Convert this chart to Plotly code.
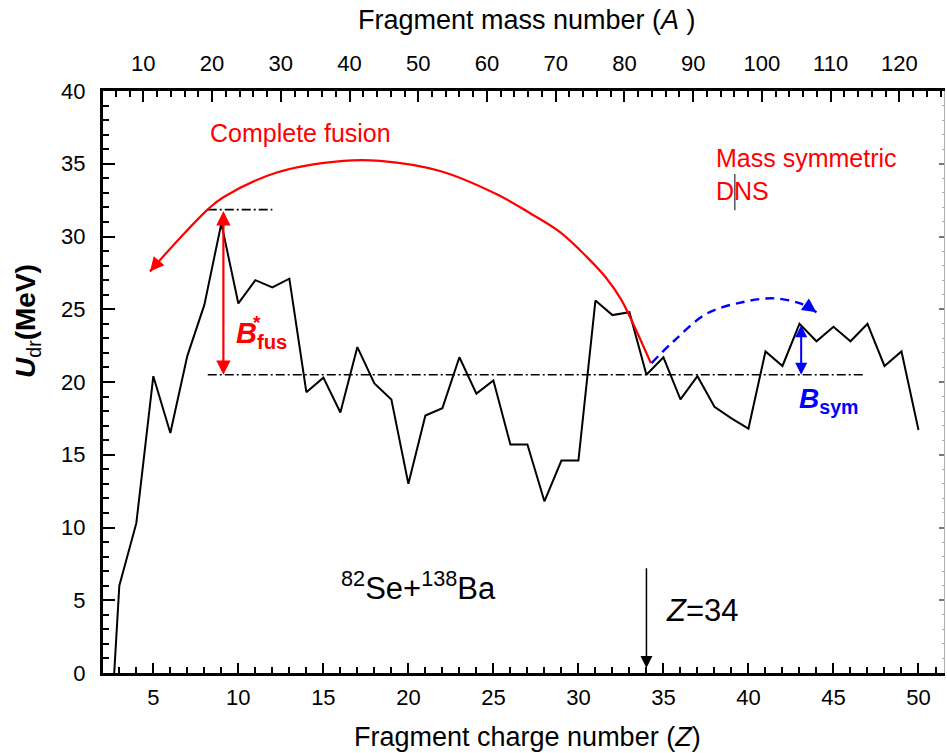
import plotly.graph_objects as go

# Driving potential U_dr (MeV) versus fragment charge number Z for 82Se+138Ba
charge_z = list(range(2, 51))
u_dr = [-14.0, 6.0, 10.3, 20.4, 16.5, 21.8, 25.3, 30.9, 25.4, 27.0,
        26.5, 27.1, 19.3, 20.3, 17.9, 22.4, 19.9, 18.8, 13.0, 17.7,
        18.2, 21.7, 19.2, 20.1, 15.7, 15.7, 11.8, 14.6, 14.6, 25.6,
        24.6, 24.8, 20.5, 21.7, 18.8, 20.4, 18.3, 17.5, 16.8, 22.1,
        21.1, 24.0, 22.8, 23.8, 22.8, 24.0, 21.1, 22.1, 16.7]

# Barrier levels (MeV)
injection_level = 20.5
fusion_top = 31.85
sym_top = 24.0
z_fusion_bar = 9.12
z_sym_bar = 43.1
z_entrance = 34

# Guide arcs (Z, U) for the two evolution paths
fusion_arc_z = [4.8, 6.57, 8.24, 9.12, 12.26, 16.18, 18.34, 21.86, 25.2,
                27.16, 28.92, 30.49, 31.6, 32.5, 33.3, 34.26]
fusion_arc_u = [27.6, 29.9, 31.9, 32.7, 34.4, 35.2, 35.2, 34.5, 32.9,
                31.6, 30.3, 28.6, 27.2, 25.7, 23.8, 21.3]
dns_arc_z = [34.3, 35.6, 37.55, 39.7, 41.5, 43.04, 44.0]
dns_arc_u = [21.3, 22.8, 24.7, 25.5, 25.75, 25.4, 24.8]

# Axis settings
z_range = [2.04, 51.5]
a_range = [4.13, 126.5]
u_range = [0, 40]
z_ticks = list(range(5, 51, 5))
a_ticks = list(range(10, 121, 10))
u_ticks = list(range(0, 41, 5))

FONT = "Arial, Liberation Sans, sans-serif"
RED = "#ff0000"
BLUE = "#0000ff"

# plot area in pixels
L, R, T, B = 103, 944, 91, 673
W, H = 947, 753


def px(xp, yp):
    return (xp - L) / (R - L), (B - yp) / (B - T)


fig = go.Figure()

fig.add_trace(go.Scatter(x=charge_z, y=u_dr, mode="lines",
                         line=dict(color="black", width=2),
                         hoverinfo="skip"))

dashdot = "9px,3px,2px,3px"
fig.add_trace(go.Scatter(x=[8.2, 46.85], y=[injection_level, injection_level],
                         mode="lines", line=dict(color="black", width=1.6, dash=dashdot)))
fig.add_trace(go.Scatter(x=[8.2, 12.0], y=[fusion_top, fusion_top],
                         mode="lines", line=dict(color="black", width=1.6, dash=dashdot)))

fig.add_trace(go.Scatter(x=fusion_arc_z, y=fusion_arc_u, mode="lines",
                         line=dict(color=RED, width=2.2, shape="spline", smoothing=1.0)))
fig.add_trace(go.Scatter(x=dns_arc_z, y=dns_arc_u, mode="lines",
                         line=dict(color=BLUE, width=2.4, shape="spline",
                                   smoothing=1.0, dash="9px,6px")))

# invisible traces to activate the top and right axes
fig.add_trace(go.Scatter(x=[None], y=[None], xaxis="x2", yaxis="y", showlegend=False))
fig.add_trace(go.Scatter(x=[None], y=[None], xaxis="x", yaxis="y2", showlegend=False))

annotations = []


def arrow(x, y, ax, ay, color, both=False, size=1.3, width=2.0):
    annotations.append(dict(x=x, y=y, ax=ax, ay=ay, xref="x", yref="y",
                            axref="x", ayref="y", text="", showarrow=True,
                            arrowhead=2, arrowsize=size, arrowwidth=width,
                            arrowcolor=color,
                            arrowside="end+start" if both else "end"))


arrow(z_fusion_bar, injection_level, z_fusion_bar, fusion_top, RED, both=True, width=2.2)
arrow(z_sym_bar, injection_level, z_sym_bar, sym_top, BLUE, both=True, size=1.2, width=2)
arrow(fusion_arc_z[0], fusion_arc_u[0], 5.35, 28.35, RED, size=1.4)
arrow(dns_arc_z[-1], dns_arc_u[-1], 43.5, 25.2, BLUE, size=1.4)
arrow(z_entrance, 0.35, z_entrance, 7.3, "black", size=1.6, width=1.5)


def text(t, x, y, size, color="black", xanchor="center", yanchor="middle",
         xref="x", yref="y", angle=0, align="center"):
    annotations.append(dict(text=t, x=x, y=y, xref=xref, yref=yref,
                            showarrow=False, xanchor=xanchor, yanchor=yanchor,
                            textangle=angle, align=align,
                            font=dict(family=FONT, size=size, color=color)))


text("Complete fusion", 13.63, 37.1, 25, RED)
text("Mass symmetric<br>DNS", 38.0, 36.5, 25, RED, xanchor="left",
     yanchor="top", align="left")
text("<sup>82</sup>Se+<sup>138</sup>Ba", 20.6, 6.0, 31)
text("<i>Z</i>=34", 37.3, 4.3, 31)
# B*_fus: star stacked above the subscript
text("<b><i>B</i></b><sub><b>fus</b></sub>", 9.75, 23.2, 29, RED, xanchor="left")
text("<b>*</b>", 10.75, 24.1, 19, RED, xanchor="left")
text("<b><i>B</i></b><sub><b>sym</b></sub>", 44.7, 18.7, 28, BLUE)

# axis titles
tx, ty = px(527, 737)
text("Fragment charge number (<i>Z</i>)", tx, ty, 27, xref="paper", yref="paper")
tx, ty = px(527, 20)
text("Fragment mass number (<i>A</i> )", tx, ty, 27, xref="paper", yref="paper")
tx, ty = px(27, 321)
text("<b><i>U</i></b><sub>dr</sub><b>(MeV)</b>", tx, ty, 28, xref="paper",
     yref="paper", angle=-90)

axis_common = dict(showgrid=False, zeroline=False, showline=True,
                   linecolor="black", linewidth=3, ticks="inside",
                   tickcolor="black", tickwidth=2.2,
                   tickfont=dict(family=FONT, size=22, color="black"))

fig.update_layout(
    width=W, height=H,
    margin=dict(l=L, r=W - R, t=T, b=H - B),
    paper_bgcolor="white", plot_bgcolor="white",
    showlegend=False,
    annotations=annotations,
    shapes=[dict(type="line", xref="x", yref="y", x0=39.2, x1=39.2,
                 y0=31.8, y1=34.3, line=dict(color="black", width=1))],
    xaxis=dict(range=z_range, tickvals=z_ticks, ticklen=10,
               minor=dict(dtick=1, tick0=0, ticks="inside", ticklen=6,
                          tickwidth=1.8, tickcolor="black"),
               ticklabelstandoff=3, **axis_common),
    xaxis2=dict(range=a_range, tickvals=a_ticks, overlaying="x", side="top",
                anchor="y", ticklen=11,
                minor=dict(dtick=2, tick0=0, ticks="inside", ticklen=6,
                           tickwidth=1.8, tickcolor="black"),
                ticklabelstandoff=8, **axis_common),
    yaxis=dict(range=u_range, tickvals=u_ticks, ticklen=12,
               minor=dict(dtick=1, tick0=0, ticks="inside", ticklen=6,
                          tickwidth=1.8, tickcolor="black"),
               ticklabelstandoff=10, **axis_common),
    yaxis2=dict(range=u_range, tickvals=u_ticks, overlaying="y", side="right",
                anchor="x", showgrid=False, zeroline=False, showline=True,
                linecolor="#b0b0b0", linewidth=1, ticks="inside",
                tickcolor="#777", ticklen=5, tickwidth=2,
                minor=dict(dtick=1, tick0=0, ticks="inside", ticklen=2,
                           tickwidth=1, tickcolor="#aaa"),
                showticklabels=False),
)

fig.write_html("out.html")
